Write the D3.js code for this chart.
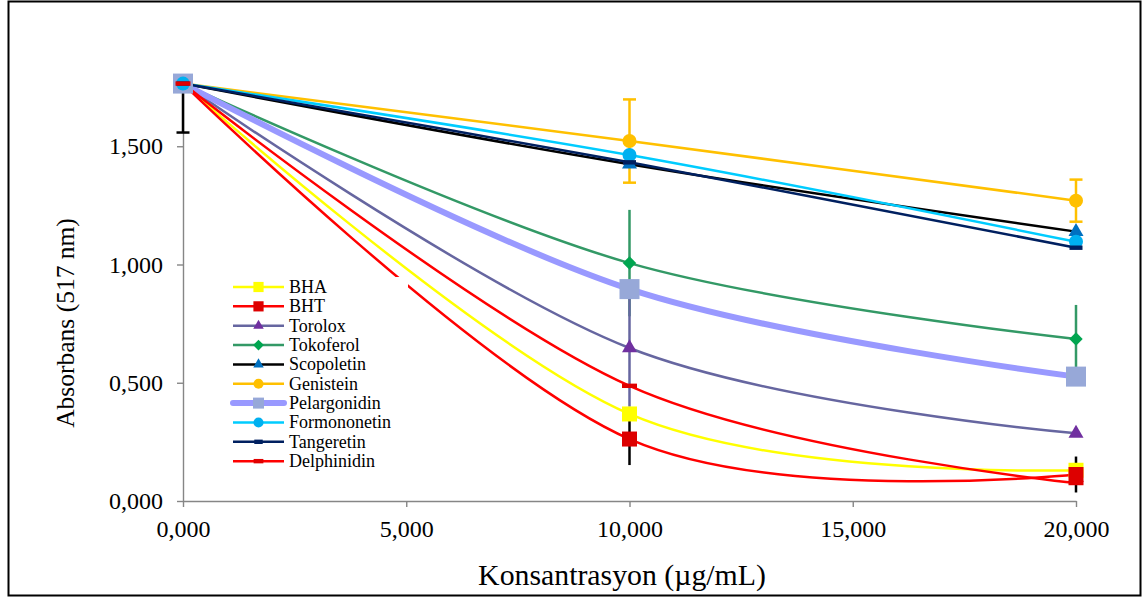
<!DOCTYPE html>
<html>
<head>
<meta charset="utf-8">
<script src="https://cdn.jsdelivr.net/npm/d3@7"></script>
<style>
  body { margin: 0; background: #fff; }
  svg { display: block; }
  text { font-family: "Liberation Serif", "Times New Roman", serif; fill: #000; }
</style>
</head>
<body>
<svg id="chart" width="1143" height="597"></svg>
<script>
// Concentrations (µg/mL) and absorbance readings at 517 nm
const concentrations = [0, 10, 20];

const seriesNames = ["BHA", "BHT", "Torolox", "Tokoferol", "Scopoletin",
  "Genistein", "Pelargonidin", "Formononetin", "Tangeretin", "Delphinidin"];

const bha          = [1.765, 0.368, 0.130];
const bht          = [1.765, 0.262, 0.112];
const torolox      = [1.765, 0.647, 0.286];
const tokoferol    = [1.765, 1.006, 0.685];
const scopoletin   = [1.765, 1.424, 1.139];
const genistein    = [1.765, 1.522, 1.270];
const pelargonidin = [1.765, 0.896, 0.526];
const formononetin = [1.765, 1.463, 1.096];
const tangeretin   = [1.765, 1.432, 1.071];
const delphinidin  = [1.765, 0.487, 0.076];

// Error bar half-lengths (upper / lower)
const errGenistein     = [0, 0.176, 0.089];
const errTokoferol     = [0, 0.225, 0.144];
const errTorolox       = [0, 0.248, 0];
const errBHT           = [0, 0.110, 0.076];
const errScopoletinLow = [0.207, 0, 0];

const xTicks = [0, 5, 10, 15, 20];
const yTicks = [0, 0.5, 1.0, 1.5];

const xTitle = "Konsantrasyon (µg/mL)";
const yTitle = "Absorbans (517 nm)";

// ---- styling per series ----
const styles = {
  "BHA":          { line: "#FFFF00", width: 2.5, marker: "square",   fill: "#FFFF00", size: 15 },
  "BHT":          { line: "#FF0000", width: 2.5, marker: "square",   fill: "#DD0000", size: 15 },
  "Torolox":      { line: "#6666A0", width: 2.5, marker: "triangle", fill: "#7030A0", size: 15 },
  "Tokoferol":    { line: "#339966", width: 2.5, marker: "diamond",  fill: "#00A650", size: 9.5 },
  "Scopoletin":   { line: "#000000", width: 2.5, marker: "triangle", fill: "#0070C0", size: 15 },
  "Genistein":    { line: "#FFC000", width: 2.5, marker: "circle",   fill: "#FFC000", size: 14 },
  "Pelargonidin": { line: "#9999FF", width: 6,   marker: "square",   fill: "#97A8D8", size: 20 },
  "Formononetin": { line: "#00CCFF", width: 2.5, marker: "circle",   fill: "#00B0F0", size: 14 },
  "Tangeretin":   { line: "#002060", width: 2.5, marker: "dash",     fill: "#002060", size: 13 },
  "Delphinidin":  { line: "#FF0000", width: 2.5, marker: "dash",     fill: "#E00000", size: 15 }
};

const values = {
  "BHA": bha, "BHT": bht, "Torolox": torolox, "Tokoferol": tokoferol,
  "Scopoletin": scopoletin, "Genistein": genistein, "Pelargonidin": pelargonidin,
  "Formononetin": formononetin, "Tangeretin": tangeretin, "Delphinidin": delphinidin
};

const errorBars = [
  { name: "Genistein",  up: errGenistein, down: errGenistein, color: "#FFC000", cap: true },
  { name: "Tokoferol",  up: errTokoferol, down: errTokoferol, color: "#339966", cap: false },
  { name: "Torolox",    up: errTorolox,   down: errTorolox,   color: "#6666A0", cap: false },
  { name: "BHT",        up: errBHT,       down: errBHT,       color: "#000000", cap: false },
  { name: "Scopoletin", up: [0, 0, 0],    down: errScopoletinLow, color: "#000000", cap: true }
];

// ---- layout ----
const svg = d3.select("#chart");
const x = d3.scaleLinear().domain([0, 20]).range([183, 1076]);
const y = d3.scaleLinear().domain([0, 1.8]).range([501, 501 - 1.8 * 236.5]);

const locale = d3.formatLocale({ decimal: ",", thousands: ".", grouping: [3], currency: ["", ""] });
const fmt = locale.format(".3f");

// outer frame
svg.append("rect")
  .attr("x", 8.5).attr("y", 1.5).attr("width", 1132).attr("height", 594)
  .attr("fill", "#fff").attr("stroke", "#000").attr("stroke-width", 2);

// axes
const axisColor = "#868686";
const gx = svg.append("g").attr("transform", "translate(0,501)")
  .call(d3.axisBottom(x).tickValues(xTicks).tickFormat(fmt).tickSize(6).tickSizeOuter(0).tickPadding(13));
const gy = svg.append("g").attr("transform", "translate(183,0)")
  .call(d3.axisLeft(y).tickValues(yTicks).tickFormat(fmt).tickSize(6).tickSizeOuter(0).tickPadding(14));
[gx, gy].forEach(g => {
  g.select(".domain").attr("stroke", axisColor).attr("stroke-width", 1.4);
  g.selectAll(".tick line").attr("stroke", axisColor).attr("stroke-width", 1.4);
  g.selectAll(".tick text").attr("font-family", "Liberation Serif").attr("font-size", 24).attr("fill", "#000");
});

// axis titles
svg.append("text").attr("x", 622).attr("y", 585).attr("text-anchor", "middle")
  .attr("font-size", 29.8).text(xTitle);
svg.append("text").attr("transform", "translate(74,323) rotate(-90)").attr("text-anchor", "middle")
  .attr("font-size", 25.5).text(yTitle);

// lines
const line = d3.line()
  .x((d, i) => x(concentrations[i]))
  .y(d => y(d))
  .curve(d3.curveCardinal.tension(0));

const linesG = svg.append("g");
seriesNames.forEach(name => {
  const s = styles[name];
  linesG.append("path")
    .attr("d", line(values[name]))
    .attr("fill", "none")
    .attr("stroke", s.line)
    .attr("stroke-width", s.width)
    .attr("stroke-linejoin", "round");
});

// error bars
const errG = svg.append("g");
errorBars.forEach(eb => {
  const vals = values[eb.name];
  vals.forEach((v, i) => {
    const up = eb.up[i], down = eb.down[i];
    if (!up && !down) return;
    const cx = x(concentrations[i]);
    const y1 = y(v + up), y2 = y(v - down);
    errG.append("line").attr("x1", cx).attr("x2", cx).attr("y1", y1).attr("y2", y2)
      .attr("stroke", eb.color).attr("stroke-width", 2.5);
    if (eb.cap) {
      [up ? y1 : null, down ? y2 : null].forEach(cy => {
        if (cy === null) return;
        errG.append("line").attr("x1", cx - 6.5).attr("x2", cx + 6.5).attr("y1", cy).attr("y2", cy)
          .attr("stroke", eb.color).attr("stroke-width", 2.5);
      });
    }
  });
});

// marker drawing helper
function drawMarker(g, type, cx, cy, size, fill) {
  if (type === "dash") {
    g.append("rect").attr("x", cx - size / 2).attr("y", cy - 2.2)
      .attr("width", size).attr("height", 4.4).attr("fill", fill);
    return;
  }
  let sym, area, rot = 0;
  if (type === "square") { sym = d3.symbolSquare; area = size * size; }
  else if (type === "circle") { sym = d3.symbolCircle; area = Math.PI * size * size / 4; }
  else if (type === "diamond") { sym = d3.symbolSquare; area = size * size; rot = 45; }
  else if (type === "triangle") {
    sym = d3.symbolTriangle;
    // side length = size
    area = Math.pow(size / (2 * Math.sqrt(3)), 2) * 3 * Math.sqrt(3);
  }
  g.append("path")
    .attr("d", d3.symbol().type(sym).size(area)())
    .attr("transform", `translate(${cx},${cy}) rotate(${rot})`)
    .attr("fill", fill);
}

// markers
const markG = svg.append("g");
seriesNames.forEach(name => {
  const s = styles[name];
  values[name].forEach((v, i) => {
    drawMarker(markG, s.marker, x(concentrations[i]), y(v), s.size, s.fill);
  });
});

// legend
const legend = svg.append("g");
legend.append("rect").attr("x", 225).attr("y", 277).attr("width", 183).attr("height", 198).attr("fill", "#fff");
const legendScale = { square: 0.68, circle: 0.72, triangle: 0.7, diamond: 0.8, dash: 0.65 };
seriesNames.forEach((name, i) => {
  const s = styles[name];
  const ly = 287 + i * 19.35;
  legend.append("line").attr("x1", 233).attr("x2", 284).attr("y1", ly).attr("y2", ly)
    .attr("stroke", s.line).attr("stroke-width", s.width).attr("stroke-linecap", name === "Pelargonidin" ? "round" : "butt");
  const ms = name === "Pelargonidin" ? 11 : s.size * legendScale[s.marker];
  drawMarker(legend, s.marker, 258.5, ly, ms, s.fill);
  legend.append("text").attr("x", 289).attr("y", ly).attr("dy", "0.33em")
    .attr("font-size", 18).text(name);
});
</script>
</body>
</html>
